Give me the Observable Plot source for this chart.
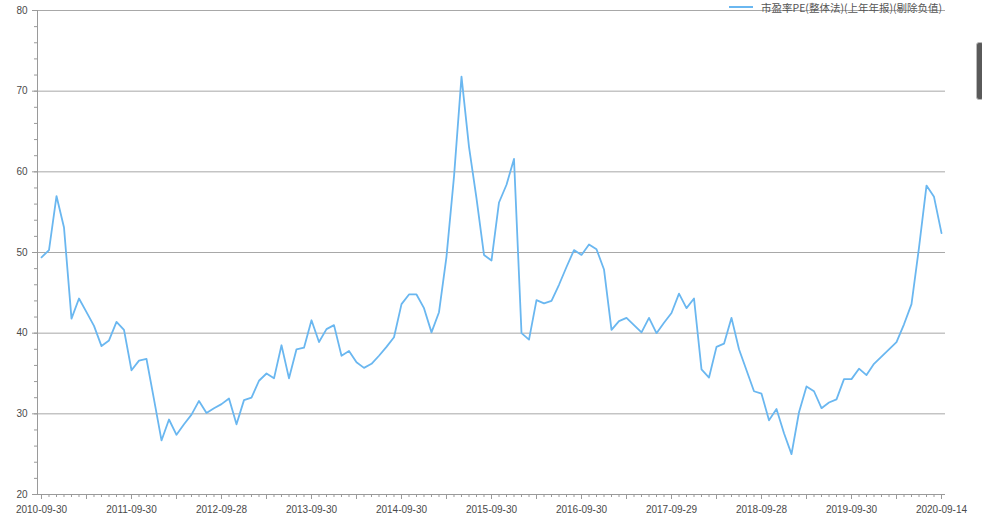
<!DOCTYPE html>
<html>
<head>
<meta charset="utf-8">
<script src="https://cdn.jsdelivr.net/npm/d3@7"></script>
<script src="https://cdn.jsdelivr.net/npm/@observablehq/plot@0.6"></script>
<style>
  html, body { margin: 0; padding: 0; background: #fff; }
  #wrap { position: relative; width: 982px; height: 525px; overflow: hidden; }
  #legend { position: absolute; left: 729px; top: 0px; height: 14px; display: flex; align-items: center;
            font-family: "Noto Sans CJK SC", sans-serif; font-size: 10.5px; color: #555; white-space: nowrap; }
  #legend .sw { width: 24px; height: 2px; background: #6ab7f0; margin-right: 8px; }
  #scroll { position: absolute; left: 976px; top: 42px; width: 8px; height: 58px; background: #5a5a5a;
            border: 1px solid #bbb; border-radius: 3px; box-sizing: border-box; }
</style>
</head>
<body>
<div id="wrap">
  <div id="chart"></div>
  <div id="legend"><div class="sw"></div><span id="legendText"></span></div>
  <div id="scroll"></div>
</div>
<script>
const seriesName = "市盈率PE(整体法)(上年年报)(剔除负值)";

const dates = [
"2010-09-30","2010-10-29","2010-11-30","2010-12-31",
"2011-01-31","2011-02-28","2011-03-31","2011-04-29","2011-05-31","2011-06-30","2011-07-29","2011-08-31","2011-09-30","2011-10-31","2011-11-30","2011-12-30",
"2012-01-31","2012-02-29","2012-03-30","2012-04-27","2012-05-31","2012-06-29","2012-07-31","2012-08-31","2012-09-28","2012-10-31","2012-11-30","2012-12-31",
"2013-01-31","2013-02-28","2013-03-29","2013-04-26","2013-05-31","2013-06-28","2013-07-31","2013-08-30","2013-09-30","2013-10-31","2013-11-29","2013-12-31",
"2014-01-30","2014-02-28","2014-03-31","2014-04-30","2014-05-30","2014-06-30","2014-07-31","2014-08-29","2014-09-30","2014-10-31","2014-11-28","2014-12-31",
"2015-01-30","2015-02-27","2015-03-31","2015-04-30","2015-05-29","2015-06-30","2015-07-31","2015-08-31","2015-09-30","2015-10-30","2015-11-30","2015-12-31",
"2016-01-29","2016-02-29","2016-03-31","2016-04-29","2016-05-31","2016-06-30","2016-07-29","2016-08-31","2016-09-30","2016-10-31","2016-11-30","2016-12-30",
"2017-01-26","2017-02-28","2017-03-31","2017-04-28","2017-05-31","2017-06-30","2017-07-31","2017-08-31","2017-09-29","2017-10-31","2017-11-30","2017-12-29",
"2018-01-31","2018-02-28","2018-03-30","2018-04-27","2018-05-31","2018-06-29","2018-07-31","2018-08-31","2018-09-28","2018-10-31","2018-11-30","2018-12-28",
"2019-01-31","2019-02-28","2019-03-29","2019-04-30","2019-05-31","2019-06-28","2019-07-31","2019-08-30","2019-09-30","2019-10-31","2019-11-29","2019-12-31",
"2020-01-23","2020-02-28","2020-03-31","2020-04-30","2020-05-29","2020-06-30","2020-07-31","2020-08-31","2020-09-14"
];

const pe = [
49.4,50.3,57.0,53.1,41.8,44.3,42.6,40.9,38.4,39.1,41.4,40.4,
35.4,36.6,36.8,31.8,26.7,29.3,27.4,28.7,29.9,31.6,30.1,30.7,
31.2,31.9,28.7,31.7,32.0,34.1,35.0,34.4,38.5,34.4,38.0,38.2,
41.6,38.9,40.5,41.0,37.2,37.8,36.4,35.7,36.2,37.2,38.3,39.5,
43.6,44.8,44.8,43.1,40.1,42.6,49.5,59.4,71.8,63.1,56.7,49.7,
49.0,56.2,58.4,61.6,40.0,39.2,44.1,43.7,44.0,46.0,48.2,50.3,
49.7,51.0,50.4,47.9,40.4,41.5,41.9,41.0,40.1,41.9,40.0,41.3,
42.5,44.9,43.1,44.3,35.5,34.5,38.3,38.7,41.9,38.0,35.4,32.8,
32.5,29.2,30.6,27.6,25.0,30.2,33.4,32.8,30.7,31.4,31.8,34.3,
34.3,35.6,34.8,36.2,37.1,38.0,38.9,41.1,43.6,50.6,58.3,56.9,
52.4
];

const xTickLabels = ["2010-09-30","2011-09-30","2012-09-28","2013-09-30","2014-09-30","2015-09-30",
                     "2016-09-30","2017-09-29","2018-09-28","2019-09-30","2020-09-14"];
const yTickValues = [20,30,40,50,60,70,80];
const gridValues = [30,40,50,60,70,80];

const data = dates.map((d, i) => ({date: d, value: pe[i]}));
const majorX = dates.filter((d, i) => i % 6 === 0);
const minorY = d3.range(20, 81, 2);

const axisColor = "#9a9a9a";
const textColor = "#4a4a4a";

const chart = Plot.plot({
  width: 982,
  height: 525,
  marginLeft: 37,
  marginRight: 37,
  marginTop: 10,
  marginBottom: 31,
  style: {fontFamily: "'Liberation Sans', Arial, sans-serif", fontSize: "10px", background: "#fff"},
  x: {type: "point", domain: dates, padding: 0.533},
  y: {domain: [20, 80]},
  marks: [
    Plot.ruleY(gridValues, {stroke: "#a8a8a8", strokeWidth: 1}),
    Plot.ruleY([20], {stroke: axisColor}),
    Plot.frame({anchor: "left", stroke: axisColor}),
    Plot.axisY({ticks: minorY, tickSize: 3, tickFormat: () => "", stroke: axisColor, label: null}),
    Plot.axisY({ticks: yTickValues, tickSize: 5, tickPadding: 5, tickFormat: d => String(d), stroke: axisColor, fill: textColor, label: null}),
    Plot.axisX({ticks: dates, tickSize: 3, tickFormat: () => "", stroke: axisColor, label: null}),
    Plot.axisX({ticks: majorX, tickSize: 5, tickFormat: () => "", stroke: axisColor, label: null}),
    Plot.axisX({ticks: xTickLabels, tickSize: 0, tickPadding: 11, tickFormat: d => d, fill: textColor, label: null}),
    Plot.line(data, {x: "date", y: "value", stroke: "#6ab7f0", strokeWidth: 1.8})
  ]
});
document.getElementById("chart").appendChild(chart);
document.getElementById("legendText").textContent = seriesName;
</script>
</body>
</html>
